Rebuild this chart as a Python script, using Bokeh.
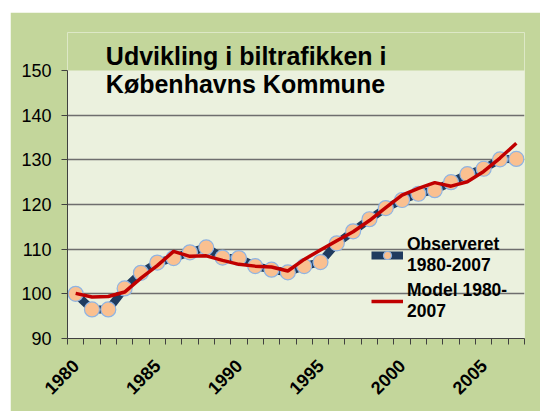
import math
from bokeh.plotting import figure
from bokeh.models import Range1d, FixedTicker, Label, Legend, LegendItem, BoxAnnotation
from bokeh.embed import file_html
from bokeh.resources import INLINE

years = list(range(1980, 2008))
observed = [100.0, 96.5, 96.5, 101.2, 104.7, 107.0, 108.0, 109.3, 110.4, 108.1,
            108.0, 106.2, 105.4, 104.8, 106.2, 107.1, 111.3, 114.0, 116.7, 119.2,
            121.0, 122.4, 123.2, 125.0, 126.8, 128.0, 130.1, 130.2]
model = [100.1, 99.3, 99.4, 100.4, 103.5, 106.3, 109.5, 108.4, 108.5, 107.5,
         106.6, 106.2, 106.0, 105.1, 107.7, 109.8, 111.9, 113.9, 116.4, 119.3,
         122.1, 123.6, 124.9, 124.1, 125.1, 127.4, 130.4, 133.7]
year_labels = [1980, 1985, 1990, 1995, 2000, 2005]
y_ticks = [90, 100, 110, 120, 130, 140, 150]
title_lines = ["Udvikling i biltrafikken i", "Københavns Kommune"]
legend_labels = ["Observeret\n1980-2007", "Model 1980-\n2007"]

FONT = "Liberation Sans"
GREEN = "#c3d69b"

p = figure(width=530, height=399, output_backend="svg", toolbar_location=None,
           x_range=Range1d(years[0] - 0.5, years[-1] + 0.5),
           y_range=Range1d(90, 158.5),
           min_border_left=57, min_border_right=16, min_border_top=20, min_border_bottom=73)
p.margin = (12, 0, 0, 10)
p.background_fill_color = "#ebf1de"
p.border_fill_color = GREEN
p.outline_line_color = None

# green band above the plot area (title zone)
p.add_layout(BoxAnnotation(bottom=150, fill_color=GREEN, fill_alpha=1, line_color=None,
                           level="underlay"))

# axes
p.xaxis.ticker = FixedTicker(ticks=year_labels,
                             minor_ticks=[y - 0.5 for y in years] + [years[-1] + 0.5])
p.xaxis.major_tick_out = 0
p.xaxis.major_tick_in = 0
p.xaxis.minor_tick_out = 6
p.xaxis.minor_tick_in = 0
p.xaxis.minor_tick_line_color = "#404040"
p.xaxis.axis_line_color = "#404040"
p.xaxis.major_label_orientation = math.pi / 4
p.xaxis.major_label_text_font = FONT
p.xaxis.major_label_text_font_style = "bold"
p.xaxis.major_label_text_font_size = "18px"
p.xaxis.major_label_text_color = "black"
p.xaxis.major_label_standoff = 18

p.yaxis.ticker = FixedTicker(ticks=y_ticks)
p.yaxis.bounds = (90, 150)
p.yaxis.minor_tick_line_color = None
p.yaxis.major_tick_out = 6
p.yaxis.major_tick_in = 0
p.yaxis.major_tick_line_color = "#404040"
p.yaxis.axis_line_color = "#404040"
p.yaxis.major_label_text_font = FONT
p.yaxis.major_label_text_font_size = "18px"
p.yaxis.major_label_text_color = "black"
p.yaxis.major_label_standoff = 10

p.xgrid.grid_line_color = None
p.ygrid.ticker = FixedTicker(ticks=[100, 110, 120, 130, 140])
p.ygrid.grid_line_color = "#6e6e6e"
p.ygrid.grid_line_width = 1.5

# series
r_obs_line = p.line(years, observed, line_color="#1f3b5f", line_width=8)
r_obs_pts = p.scatter(years, observed, size=15, fill_color="#fac090",
                      line_color="#8eb4e3", line_width=1.2)
r_model = p.line(years, model, line_color="#c00000", line_width=3.5)

legend = Legend(items=[LegendItem(label=legend_labels[0], renderers=[r_obs_line, r_obs_pts]),
                       LegendItem(label=legend_labels[1], renderers=[r_model])],
                location=(304, 16), background_fill_alpha=0, border_line_color=None,
                label_text_font=FONT, label_text_font_style="bold",
                label_text_font_size="17.5px", label_text_color="black",
                glyph_width=32, spacing=4, label_standoff=4, label_height=38)
p.add_layout(legend, "center")

# title
p.add_layout(Label(x=1981.85, y=156.3, text=title_lines[0], text_font=FONT,
                   text_font_style="bold", text_font_size="25px",
                   text_baseline="top", text_color="black"))
p.add_layout(Label(x=1981.85, y=150.2, text=title_lines[1], text_font=FONT,
                   text_font_style="bold", text_font_size="25px",
                   text_baseline="top", text_color="black"))

open("out.html", "w").write(file_html(p, INLINE))
